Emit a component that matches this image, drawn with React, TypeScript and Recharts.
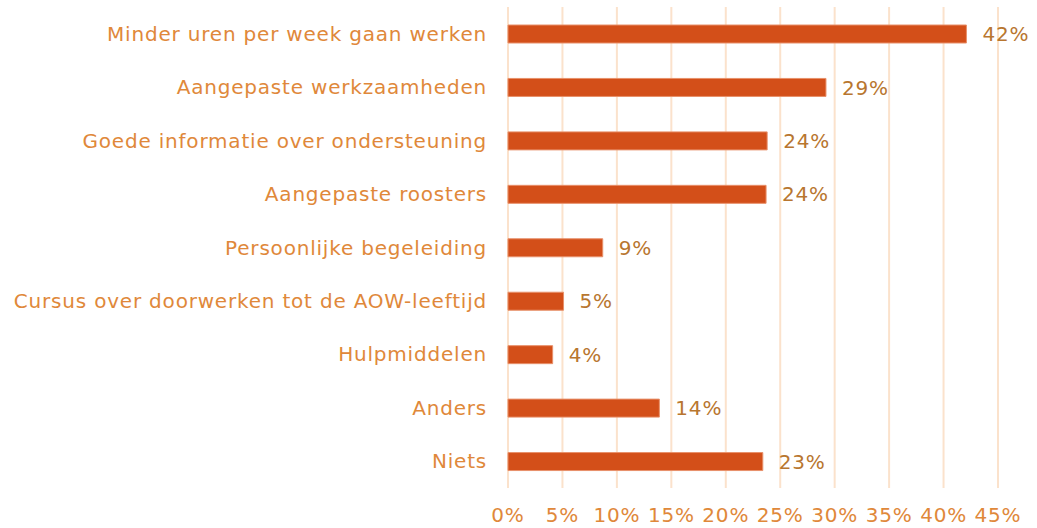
import React from "react";
import { BarChart, Bar, XAxis, YAxis, CartesianGrid, LabelList } from "recharts";

const categories = [
  "Minder uren per week gaan werken",
  "Aangepaste werkzaamheden",
  "Goede informatie over ondersteuning",
  "Aangepaste roosters",
  "Persoonlijke begeleiding",
  "Cursus over doorwerken tot de AOW-leeftijd",
  "Hulpmiddelen",
  "Anders",
  "Niets",
];
const values = [42.1, 29.2, 23.8, 23.7, 8.7, 5.1, 4.1, 13.9, 23.4];
const valueLabels = ["42%", "29%", "24%", "24%", "9%", "5%", "4%", "14%", "23%"];
const xTicks = [0, 5, 10, 15, 20, 25, 30, 35, 40, 45];

const data = categories.map((c, i) => ({ name: c, value: values[i], label: valueLabels[i] }));

const FONT = "'DejaVu Sans', Verdana, sans-serif";

export default function App() {
  return (
    <div style={{ position: "absolute", left: 0, top: 0, width: 1037, height: 528, background: "#fff" }}>
      <BarChart
        width={1037}
        height={528}
        data={data}
        layout="vertical"
        margin={{ top: 7, right: 39, bottom: 0, left: 0 }}
        barSize={18}
      >
        <CartesianGrid horizontal={false} vertical stroke="#FBE2CC" strokeWidth={2} />
        <XAxis
          type="number"
          domain={[0, 45]}
          ticks={xTicks}
          interval={0}
          tickFormatter={(v) => `${v}%`}
          axisLine={false}
          tickLine={false}
          tickSize={0}
          tickMargin={20}
          height={40}
          tick={{ fill: "#E0883A", fontSize: 20, fontFamily: FONT, letterSpacing: 0.8 }}
        />
        <YAxis
          type="category"
          dataKey="name"
          width={508}
          axisLine={false}
          tickLine={false}
          tickSize={0}
          tickMargin={21}
          interval={0}
          tick={{ fill: "#E0883A", fontSize: 20, fontFamily: FONT, letterSpacing: 0.8 }}
        />
        <Bar dataKey="value" fill="#D34F19" stroke="#E8906A" strokeWidth={1} isAnimationActive={false}>
          <LabelList
            dataKey="label"
            position="right"
            offset={16}
            style={{ fill: "#B8762F", fontSize: 20, fontFamily: FONT, letterSpacing: 0.8 }}
          />
        </Bar>
      </BarChart>
    </div>
  );
}
